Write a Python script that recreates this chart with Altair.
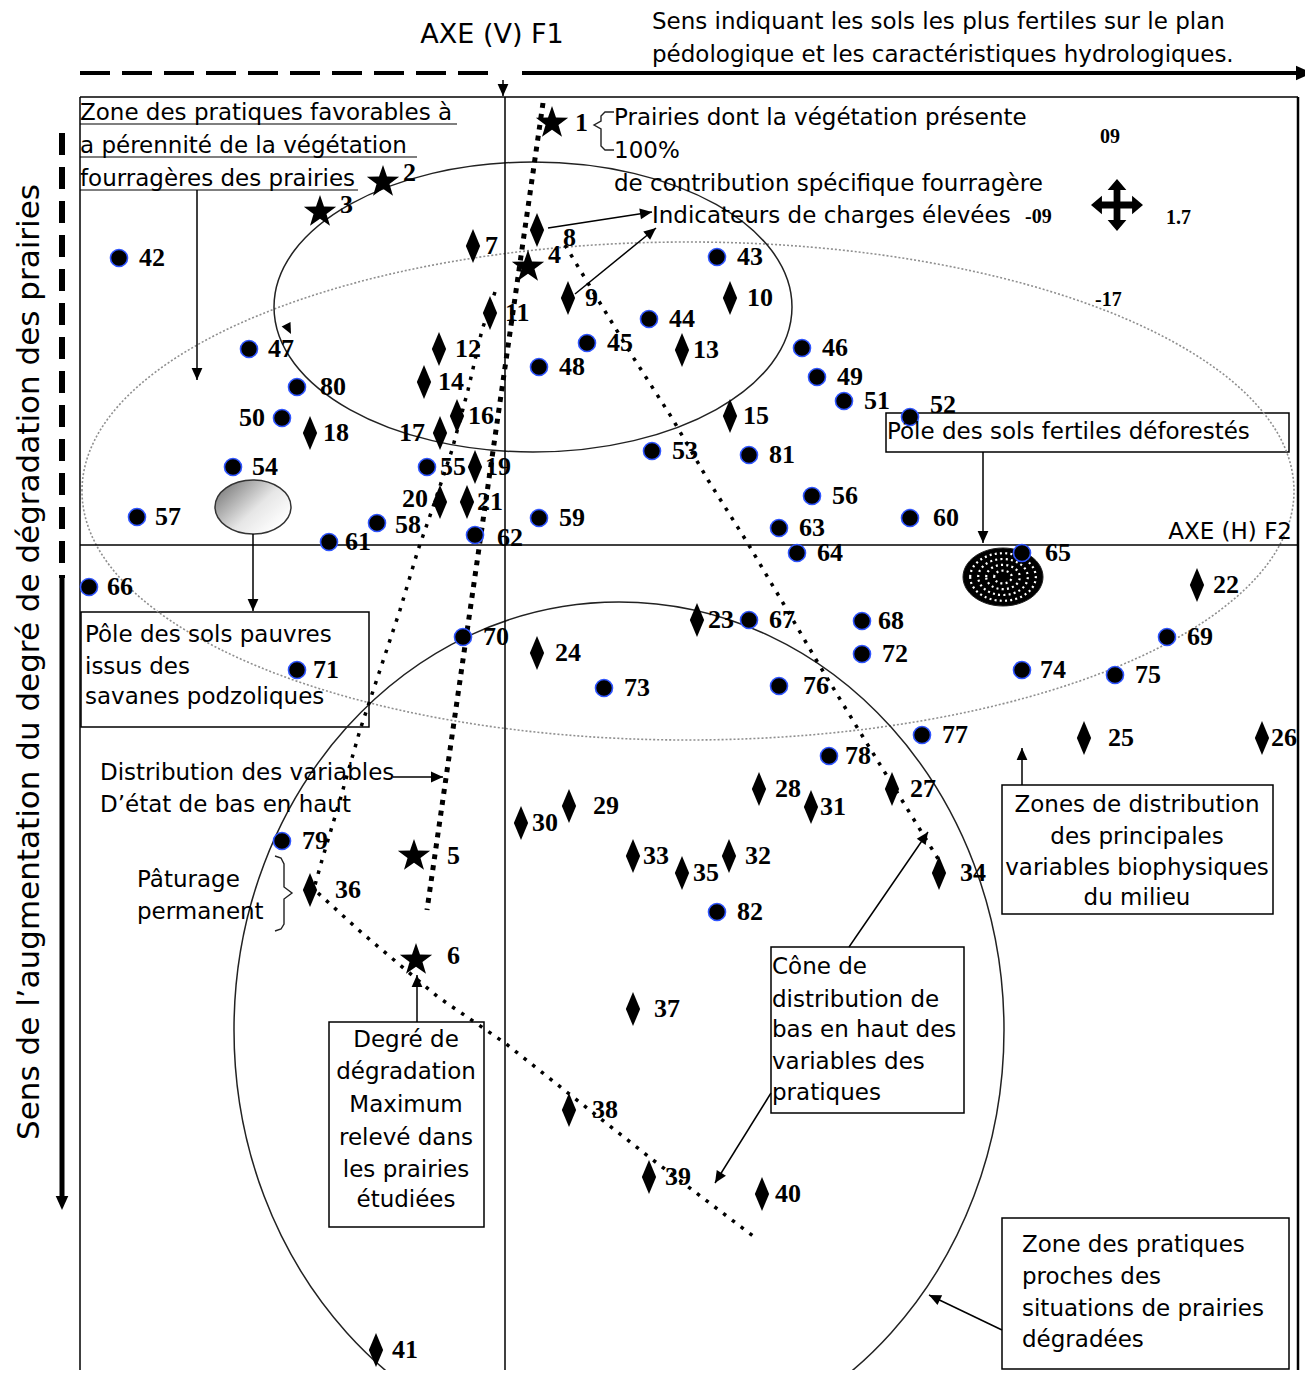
import math
import altair as alt
import pandas as pd

# ------------------------------------------------------------------
# Data (figure frame: x from left, y from top)
# ------------------------------------------------------------------
STAR_ID = [1, 2, 3, 4, 5, 6]
STAR_X = [552, 383, 320, 528, 414, 416]
STAR_Y = [123, 182, 212, 267, 856, 960]

DIAM_ID = list(range(7, 42))
DIAM_X = [473, 537, 568, 730, 490, 439, 682, 424, 730, 457, 440, 310, 475, 440, 467,
          1197, 697, 537, 1084, 1262, 892, 759, 569, 521, 811, 729, 633, 939, 682, 310,
          633, 569, 649, 762, 376]
DIAM_Y = [246, 230, 298, 298, 313, 349, 350, 382, 416, 416, 433, 433, 467, 502, 502,
          585, 620, 653, 738, 738, 789, 789, 806, 823, 807, 856, 856, 873, 873, 890,
          1009, 1110, 1177, 1194, 1350]

CIRC_ID = list(range(42, 83))
CIRC_X = [119, 717, 649, 587, 802, 249, 539, 817, 282, 844,
          910, 652, 233, 427, 812, 137, 377, 539, 910, 329,
          475, 779, 797, 1022, 89, 749, 862, 1167, 463, 297,
          862, 604, 1022, 1115, 779, 922, 829, 282, 297, 749,
          717]
CIRC_Y = [258, 257, 319, 343, 348, 349, 367, 377, 418, 401,
          417, 451, 467, 467, 496, 517, 523, 518, 518, 542,
          535, 528, 553, 553, 587, 620, 621, 637, 637, 670,
          654, 688, 670, 675, 686, 735, 756, 841, 387, 455,
          912]

# label placement relative to marker
LABEL_DX = {1: 23, 2: 20, 3: 20, 4: 20, 5: 33, 6: 31, 7: 12, 8: 26, 9: 17, 10: 17,
            11: 15, 12: 16, 13: 11, 14: 14, 15: 13, 16: 11, 17: -15, 18: 13, 19: 10,
            20: -12, 21: 10, 22: 16, 23: 11, 24: 18, 25: 24, 26: 9, 27: 18, 28: 16,
            29: 24, 30: 11, 31: 9, 32: 16, 33: 10, 34: 21, 35: 11, 36: 25, 37: 21,
            38: 23, 39: 16, 40: 13, 41: 16, 50: -17, 55: 13, 61: 16, 65: 23, 76: 24,
            80: 23, 60: 23, 62: 22, 66: 18, 71: 16, 68: 16, 78: 16, 47: 19, 54: 19,
            57: 18, 58: 18, 74: 18}
LABEL_DY = {2: -9, 3: -7, 4: -12, 6: -4, 8: 8, 62: 3, 20: -3, 58: 2, 52: -12}
DEFAULT_DX = {"star": 23, "diamond": 13, "circle": 20}

# ellipses: centre x, centre y, radius x, radius y
ELL_UPPER = (533, 307, 259, 145)
ELL_GREY = (688, 491, 606, 249)
ELL_LOWER = (619, 1030, 385, 428)
POLE_POOR = (253, 507, 38, 27)
POLE_FERTILE = (1003, 577, 40, 29)

# dotted trend lines
LINE_THICK = [(543, 103), (427, 910)]
LINE_B = [(565, 245), (600, 303), (633, 357), (672, 418), (708, 480), (747, 542),
          (783, 603), (818, 663), (863, 737), (900, 797), (940, 862)]
LINE_C = [(495, 292), (482, 330), (468, 390), (452, 450), (432, 510), (418, 550),
          (400, 610), (380, 670), (360, 730), (340, 800), (322, 860), (315, 885)]
LINE_D = [(318, 893), (362, 933), (438, 997), (505, 1043), (568, 1093), (653, 1160),
          (753, 1236)]
BRACE_1 = [(614, 112), (605, 112), (601, 116), (601, 121), (594, 125), (601, 129),
           (601, 146), (605, 150), (614, 150)]
BRACE_2 = [(275, 856), (281, 858), (284, 864), (284, 887), (292, 893), (284, 899),
           (284, 924), (281, 929), (275, 931)]

# straight segments: x1, y1, x2, y2, width
FRAME = [(80, 97, 1298, 97, 1.5), (80, 97, 80, 1378, 1.5), (1298, 97, 1298, 1378, 2.5),
         (505, 97, 505, 1378, 1.5), (80, 545, 1298, 545, 1.5),
         (522, 73, 1298, 73, 4), (62, 578, 62, 1197, 5),
         (80, 124, 457, 124, 1.2), (80, 157, 417, 157, 1.2), (80, 190, 358, 190, 1.2)]
ARROWS = [(503, 80, 503, 96), (197, 190, 197, 380), (253, 534, 253, 611),
          (548, 228, 652, 212), (575, 294, 656, 228), (983, 452, 983, 543),
          (393, 777, 443, 777), (417, 1022, 417, 975), (849, 947, 928, 832),
          (771, 1093, 715, 1183), (1022, 785, 1022, 748), (1002, 1330, 929, 1295)]
BIG_HEADS = [(1290, 73, 1312, 73, 16), (62, 1190, 62, 1210, 14), (283, 318, 291, 334, 11)]
DASH_TOP = (80, 73, 490, 73)
DASH_LEFT = (62, 133, 62, 578)

BOXES = [(886, 413, 1289, 452, 1), (81, 612, 369, 727, 0), (329, 1022, 484, 1227, 1),
         (771, 947, 964, 1113, 1), (1002, 785, 1273, 914, 1), (1002, 1218, 1289, 1369, 1)]

TEXT_LEFT = [
    ("Sens indiquant les sols les plus fertiles sur le plan", 652, 22),
    ("pédologique et les caractéristiques hydrologiques.", 652, 55),
    ("Zone des pratiques favorables à", 80, 113),
    ("a pérennité de la végétation", 80, 146),
    ("fourragères des prairies", 80, 179),
    ("Prairies dont la végétation présente", 614, 118),
    ("100%", 614, 151),
    ("de contribution spécifique fourragère", 614, 184),
    ("Indicateurs de charges élevées", 652, 216),
    ("Pôle des sols fertiles déforestés", 887, 432),
    ("Pôle des sols pauvres", 85, 635),
    ("issus des", 85, 667),
    ("savanes podzoliques", 85, 697),
    ("Distribution des variables", 100, 773),
    ("D’état de bas en haut", 100, 805),
    ("Pâturage", 137, 880),
    ("permanent", 137, 912),
    ("Cône de", 772, 967), ("distribution de", 772, 1000), ("bas en haut des", 772, 1030),
    ("variables des", 772, 1062), ("pratiques", 772, 1093),
    ("Zone des pratiques", 1022, 1245), ("proches des", 1022, 1277),
    ("situations de prairies", 1022, 1309), ("dégradées", 1022, 1340),
]
TEXT_CENTER = [
    ("Degré de", 406, 1040), ("dégradation", 406, 1072), ("Maximum", 406, 1105),
    ("relevé dans", 406, 1138), ("les prairies", 406, 1170), ("étudiées", 406, 1200),
    ("Zones de distribution", 1137, 805), ("des principales", 1137, 837),
    ("variables biophysiques", 1137, 868), ("du milieu", 1137, 898),
]
TEXT_AXIS_V = [("AXE (V) F1", 492, 35)]
TEXT_RIGHT = [("AXE (H) F2", 1292, 532)]
TEXT_SIDE = [("Sens de l’augmentation du degré de dégradation des prairies", 30, 662)]
LOAD_VALUES = [("09", 1100, 137), ("1.7", 1166, 218), ("-17", 1095, 300), ("-09", 1025, 217)]
MOVE_SYMBOL = (1117, 205)

# ------------------------------------------------------------------
W, H = 1297, 1362
XS = alt.Scale(domain=[8, 1305], range=[0, W], nice=False, zero=False)
YS = alt.Scale(domain=[8, 1370], range=[0, H], nice=False, zero=False)


def X(f):
    return alt.X(f, type="quantitative", scale=XS, axis=None)


def Y(f):
    return alt.Y(f, type="quantitative", scale=YS, axis=None)


def ellipse_path(a, b):
    k = 0.5523
    return (f"M{-a},0C{-a},{-k*b:.4f} {-k*a:.4f},{-b} 0,{-b}"
            f"C{k*a:.4f},{-b} {a},{-k*b:.4f} {a},0"
            f"C{a},{k*b:.4f} {k*a:.4f},{b} 0,{b}"
            f"C{-k*a:.4f},{b} {-a},{k*b:.4f} {-a},0Z")


def ellipse_layer(e, scale=1.0, **mark):
    cx, cy, rx, ry = e
    m = max(rx, ry)
    path = ellipse_path(rx / m, ry / m)
    size = (2 * m * scale) ** 2
    return alt.Chart(pd.DataFrame({"x": [cx], "y": [cy]})).mark_point(
        shape=path, size=size, opacity=1, **mark).encode(x=X("x"), y=Y("y"))


STAR_PATH = ("M0,-1L0.235,-0.324L0.951,-0.309L0.38,0.124L0.588,0.809L0,0.4"
             "L-0.588,0.809L-0.38,0.124L-0.951,-0.309L-0.235,-0.324Z")
DIAM_PATH = "M0,-1L0.42,0L0,1L-0.42,0Z"
HEAD_PATH = "M0,0L-0.45,1L0.45,1Z"
MOVE_PATH = ("M0,-1L0.36,-0.58L0.13,-0.58L0.13,-0.13L0.58,-0.13L0.58,-0.36L1,0"
             "L0.58,0.36L0.58,0.13L0.13,0.13L0.13,0.58L0.36,0.58L0,1L-0.36,0.58"
             "L-0.13,0.58L-0.13,0.13L-0.58,0.13L-0.58,0.36L-1,0L-0.58,-0.36"
             "L-0.58,-0.13L-0.13,-0.13L-0.13,-0.58L-0.36,-0.58Z")

SANS = "DejaVu Sans"
SERIF = "Liberation Serif"

layers = []

# boxes (bottom)
bx = pd.DataFrame(BOXES, columns=["x1", "y1", "x2", "y2", "white"])
layers.append(alt.Chart(bx[bx.white == 1]).mark_rect(
    fill="white", stroke="black", strokeWidth=1.5).encode(
    x=X("x1"), x2="x2", y=Y("y1"), y2="y2"))
layers.append(alt.Chart(bx[bx.white == 0]).mark_rect(
    fillOpacity=0, stroke="black", strokeWidth=1.5).encode(
    x=X("x1"), x2="x2", y=Y("y1"), y2="y2"))

# ellipses
layers.append(ellipse_layer(ELL_GREY, filled=False, stroke="#8f8f8f", strokeWidth=1.6,
                            strokeDash=[2, 2]))
layers.append(ellipse_layer(ELL_UPPER, filled=False, stroke="#222222", strokeWidth=1.5))
layers.append(ellipse_layer(ELL_LOWER, filled=False, stroke="#222222", strokeWidth=1.5))

grad = alt.Gradient(gradient="linear", x1=0.1, y1=0.2, x2=0.9, y2=0.8,
                    stops=[alt.GradientStop(color="#8a8a8a", offset=0),
                           alt.GradientStop(color="#e6e6e6", offset=0.55),
                           alt.GradientStop(color="#ffffff", offset=1)])
layers.append(ellipse_layer(POLE_POOR, filled=True, fill=grad, stroke="#333333",
                            strokeWidth=1.5))
layers.append(ellipse_layer(POLE_FERTILE, filled=True, fill="black", stroke="#222222",
                            strokeWidth=1))
for sc in [0.82, 0.62, 0.42, 0.22]:
    layers.append(ellipse_layer(POLE_FERTILE, scale=sc, filled=False, stroke="white",
                                strokeWidth=2.2, strokeDash=[2, 3.2]))

# frame and straight lines
fr = pd.DataFrame(FRAME, columns=["x1", "y1", "x2", "y2", "w"])
layers.append(alt.Chart(fr).mark_rule(color="black").encode(
    x=X("x1"), y=Y("y1"), x2="x2", y2="y2",
    strokeWidth=alt.StrokeWidth("w:Q", scale=None)))
ar = pd.DataFrame(ARROWS, columns=["x1", "y1", "x2", "y2"])
layers.append(alt.Chart(ar).mark_rule(color="black", strokeWidth=1.5).encode(
    x=X("x1"), y=Y("y1"), x2="x2", y2="y2"))
layers.append(alt.Chart(pd.DataFrame([DASH_TOP], columns=["x1", "y1", "x2", "y2"]))
              .mark_rule(color="black", strokeWidth=4, strokeDash=[30, 12])
              .encode(x=X("x1"), y=Y("y1"), x2="x2", y2="y2"))
layers.append(alt.Chart(pd.DataFrame([DASH_LEFT], columns=["x1", "y1", "x2", "y2"]))
              .mark_rule(color="black", strokeWidth=6, strokeDash=[22, 12])
              .encode(x=X("x1"), y=Y("y1"), x2="x2", y2="y2"))


def poly_df(lines):
    rows = []
    for g, pts_ in enumerate(lines):
        for i, (x, y) in enumerate(pts_):
            rows.append({"g": g, "i": i, "x": x, "y": y})
    return pd.DataFrame(rows)


layers.append(alt.Chart(poly_df([LINE_THICK])).mark_line(
    color="black", strokeWidth=5, strokeDash=[5, 6]).encode(
    x=X("x"), y=Y("y"), detail="g:N", order="i:Q"))
layers.append(alt.Chart(poly_df([LINE_B, LINE_C, LINE_D])).mark_line(
    color="black", strokeWidth=3.5, strokeDash=[3.5, 7.5]).encode(
    x=X("x"), y=Y("y"), detail="g:N", order="i:Q"))
layers.append(alt.Chart(poly_df([BRACE_1, BRACE_2])).mark_line(
    color="#222222", strokeWidth=1.4).encode(
    x=X("x"), y=Y("y"), detail="g:N", order="i:Q"))

# arrowheads
heads = []
for x1, y1, x2, y2 in ARROWS:
    heads.append((x2, y2, (math.degrees(math.atan2(x2 - x1, -(y2 - y1)))) % 360, 12))
for x1, y1, x2, y2, r in BIG_HEADS:
    heads.append((x2, y2, (math.degrees(math.atan2(x2 - x1, -(y2 - y1)))) % 360, r))
hd = pd.DataFrame(heads, columns=["x", "y", "angle", "r"])
hd["size"] = (2 * hd["r"]) ** 2
layers.append(alt.Chart(hd).mark_point(shape=HEAD_PATH, filled=True, color="black",
                                       opacity=1).encode(
    x=X("x"), y=Y("y"), angle=alt.Angle("angle:Q", scale=None),
    size=alt.Size("size:Q", scale=None)))

# four-way arrow
layers.append(alt.Chart(pd.DataFrame({"x": [MOVE_SYMBOL[0]], "y": [MOVE_SYMBOL[1]]}))
              .mark_point(shape=MOVE_PATH, size=52 ** 2, filled=True, color="black", opacity=1)
              .encode(x=X("x"), y=Y("y")))

# markers
pts = pd.concat([
    pd.DataFrame({"id": STAR_ID, "x": STAR_X, "y": STAR_Y, "kind": "star"}),
    pd.DataFrame({"id": DIAM_ID, "x": DIAM_X, "y": DIAM_Y, "kind": "diamond"}),
    pd.DataFrame({"id": CIRC_ID, "x": CIRC_X, "y": CIRC_Y, "kind": "circle"}),
], ignore_index=True)
pts["lx"] = [x + LABEL_DX.get(i, DEFAULT_DX[k]) for i, x, k in zip(pts.id, pts.x, pts.kind)]
pts["ly"] = [y + LABEL_DY.get(i, 0) for i, y in zip(pts.id, pts.y)]
pts["label"] = pts["id"].astype(str)
pts["right"] = [LABEL_DX.get(i, 1) < 0 for i in pts.id]

layers.append(alt.Chart(pts[pts.kind == "circle"]).mark_point(
    shape="circle", filled=True, fill="black", stroke="#2f55ff", strokeWidth=1.6,
    size=290, opacity=1).encode(x=X("x"), y=Y("y")))
layers.append(alt.Chart(pts[pts.kind == "diamond"]).mark_point(
    shape=DIAM_PATH, filled=True, color="black", size=34 ** 2, opacity=1).encode(
    x=X("x"), y=Y("y")))
layers.append(alt.Chart(pts[pts.kind == "star"]).mark_point(
    shape=STAR_PATH, filled=True, color="black", size=34 ** 2, opacity=1).encode(
    x=X("x"), y=Y("y")))

for right in [False, True]:
    layers.append(alt.Chart(pts[pts.right == right]).mark_text(
        align="right" if right else "left", baseline="middle", font=SERIF,
        fontSize=26, fontWeight="bold", color="black").encode(
        x=X("lx"), y=Y("ly"), text="label:N"))

lv = pd.DataFrame(LOAD_VALUES, columns=["t", "x", "y"])
layers.append(alt.Chart(lv).mark_text(align="left", baseline="middle", font=SERIF,
                                      fontSize=20, fontWeight="bold", color="black")
              .encode(x=X("x"), y=Y("y"), text="t:N"))

# annotation texts
for data, al, fs in [(TEXT_LEFT, "left", 23), (TEXT_CENTER, "center", 23),
                     (TEXT_RIGHT, "right", 23), (TEXT_AXIS_V, "center", 27)]:
    df = pd.DataFrame(data, columns=["t", "x", "y"])
    layers.append(alt.Chart(df).mark_text(align=al, baseline="middle", font=SANS,
                                          fontSize=fs, color="black")
                  .encode(x=X("x"), y=Y("y"), text="t:N"))
layers.append(alt.Chart(pd.DataFrame(TEXT_SIDE, columns=["t", "x", "y"])).mark_text(
    align="center", baseline="middle", font=SANS, fontSize=31, angle=270, color="black")
    .encode(x=X("x"), y=Y("y"), text="t:N"))

chart = alt.layer(*layers).properties(
    width=W, height=H, padding=0, autosize=alt.AutoSizeParams(type="none"),
    background="white").configure_view(stroke="transparent")

chart.save("out.html", embed_options={"renderer": "svg", "actions": False})
